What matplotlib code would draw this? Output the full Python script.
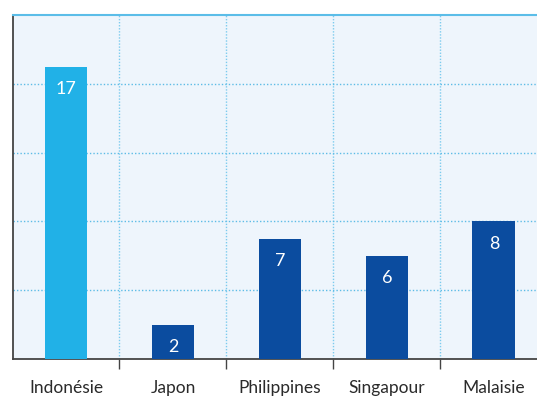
import matplotlib
matplotlib.use("Agg")
import matplotlib.pyplot as plt
import numpy as np

pays = ["Indonésie", "Japon", "Philippines", "Singapour", "Malaisie"]
valeurs = [17, 2, 7, 6, 8]
couleurs = ["#21B1E7", "#0B4C9F", "#0B4C9F", "#0B4C9F", "#0B4C9F"]

plt.rcParams['font.family'] = ['Lato', 'DejaVu Sans']

fig = plt.figure(figsize=(5.37, 3.97), dpi=100)
ax = fig.add_axes([0.0233, 0.0957, 0.996, 0.8665])
ax.set_facecolor("#EEF5FC")

x = np.arange(len(pays))
bars = ax.bar(x, valeurs, width=0.4, color=couleurs, zorder=3)

for xi, v in zip(x, valeurs):
    ax.annotate(str(v), (xi, v), xytext=(0, -16), textcoords="offset points",
                ha="center", va="center", color="white", fontsize=13, zorder=4)

ax.set_xlim(-0.5, len(pays) - 0.5)
ax.set_ylim(0, 20)

# grille pointillée
ax.set_yticks([4, 8, 12, 16])
ax.set_xticks(x)
ax.set_xticks(x[:-1] + 0.5, minor=True)
ax.grid(axis="y", which="major", color="#5DBCE6", linestyle=(0, (1, 1.5)), linewidth=1, zorder=1)
ax.grid(axis="x", which="minor", color="#7CCBEE", linestyle=(0, (1, 1.2)), linewidth=1, zorder=1)

ax.set_xticklabels(pays, fontsize=12.5, color="#2A2A2A")
ax.tick_params(axis="x", which="major", length=0, pad=15)
ax.tick_params(axis="x", which="minor", length=7, width=1, color="#444444")
ax.tick_params(axis="y", length=0, labelleft=False)

for s in ["left", "bottom"]:
    ax.spines[s].set_color("#444444")
    ax.spines[s].set_linewidth(1.3)
ax.spines["top"].set_color("#5BBDE8")
ax.spines["top"].set_linewidth(1.5)
ax.spines["right"].set_visible(False)

fig.savefig("out.png", dpi=100)
